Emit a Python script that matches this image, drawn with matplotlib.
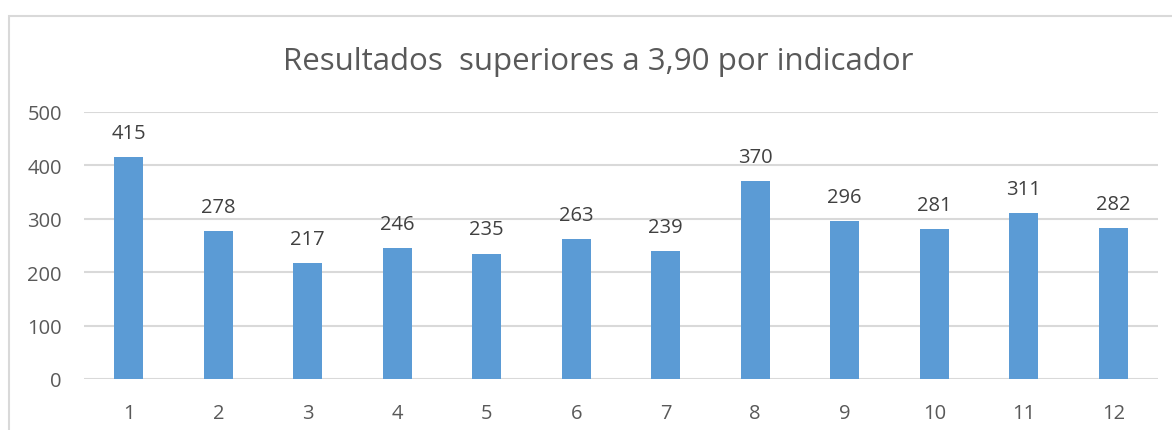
import matplotlib.pyplot as plt
from matplotlib.patches import Rectangle

indicadores = ['1', '2', '3', '4', '5', '6', '7', '8', '9', '10', '11', '12']
resultados = [415, 278, 217, 246, 235, 263, 239, 370, 296, 281, 311, 282]

plt.rcParams['font.family'] = ['Open Sans', 'DejaVu Sans']

fig = plt.figure(figsize=(11.72, 4.31), dpi=100)
ax = fig.add_axes([84 / 1172, 1 - 380 / 431, 1074 / 1172, 267 / 431])

# chart area border (left and top edges visible)
fig.patches.append(Rectangle((9 / 1172, -0.1), 1.2, 1 - 17 / 431 + 0.1,
                             transform=fig.transFigure, fill=False,
                             edgecolor='#d9d9d9', linewidth=1.5))

x = range(len(indicadores))
bars = ax.bar(x, resultados, width=0.32, color='#5b9bd5', zorder=3)
for b, v in zip(bars, resultados):
    ax.text(b.get_x() + b.get_width() / 2, v + 45, str(v), ha='center',
            va='center', fontsize=14.5, color='#404040')

ax.set_xlim(-0.5, len(indicadores) - 0.5)
ax.set_ylim(0, 500)
ax.set_yticks(range(0, 501, 100))
ax.set_xticks(list(x))
ax.set_xticklabels(indicadores)
ax.grid(axis='y', color='#d9d9d9', linewidth=1.5, zorder=0)
for s in ax.spines.values():
    s.set_visible(False)
ax.tick_params(length=0, labelsize=14.5, labelcolor='#595959')
ax.tick_params(axis='x', pad=17)
ax.tick_params(axis='y', pad=16)

fig.text(598 / 1172, 1 - 62 / 431, 'Resultados  superiores a 3,90 por indicador',
         ha='center', va='center', fontsize=22.5, color='#595959')

fig.savefig('out.png', dpi=100)
